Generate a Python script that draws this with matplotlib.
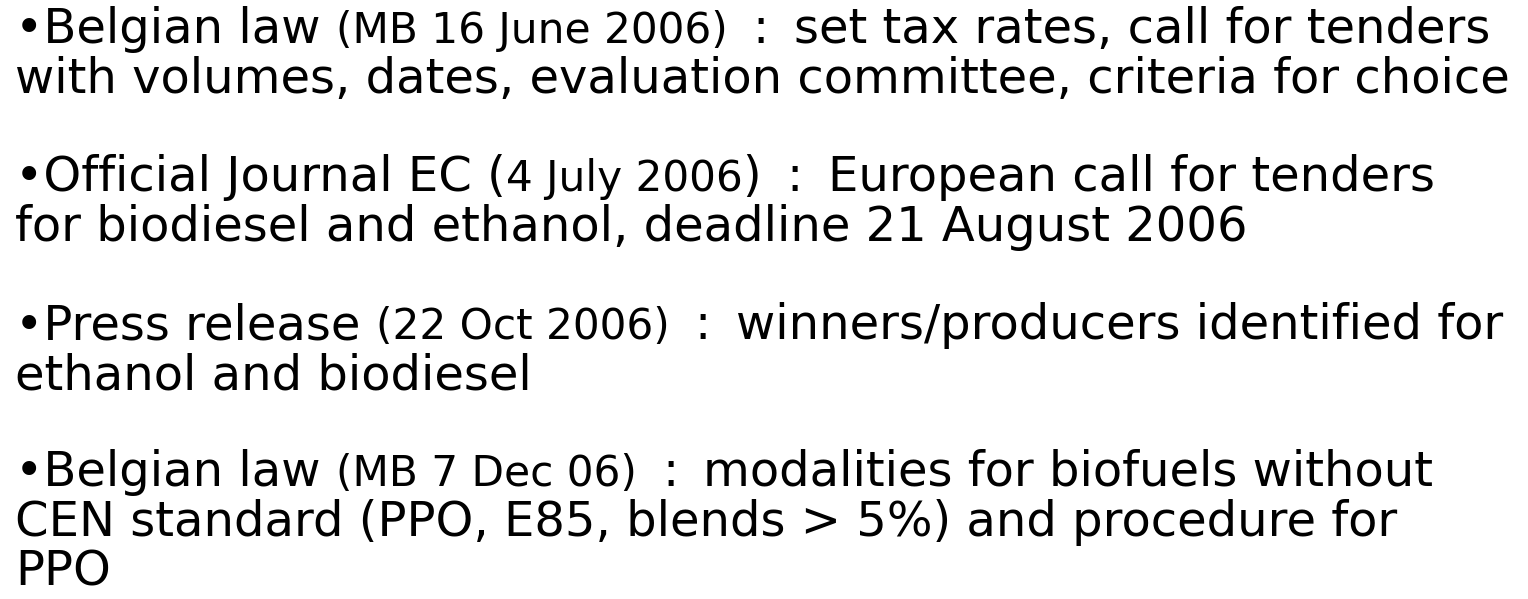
import matplotlib
matplotlib.use("Agg")
import matplotlib.pyplot as plt

# ---- content (M = main size, S = smaller size) ----
para1_line1 = [("•Belgian law ", "M"), ("(MB 16 June 2006)", "S"), (" : set tax rates, call for tenders", "M")]
para1_line2 = [("with volumes, dates, evaluation committee, criteria for choice", "M")]
para2_line1 = [("•Official Journal EC (", "M"), ("4 July 2006", "S"), (") : European call for tenders", "M")]
para2_line2 = [("for biodiesel and ethanol, deadline 21 August 2006", "M")]
para3_line1 = [("•Press release ", "M"), ("(22 Oct 2006)", "S"), (" : winners/producers identified for", "M")]
para3_line2 = [("ethanol and biodiesel", "M")]
para4_line1 = [("•Belgian law ", "M"), ("(MB 7 Dec 06)", "S"), (" : modalities for biofuels without", "M")]
para4_line2 = [("CEN standard (PPO, E85, blends > 5%) and procedure for", "M")]
para4_line3 = [("PPO", "M")]

lines = [para1_line1, para1_line2, para2_line1, para2_line2,
         para3_line1, para3_line2, para4_line1, para4_line2, para4_line3]

# layout: baselines in pixels from top
baselines = [43, 93, 191, 241, 339, 389, 486, 536, 586]

W, H = 1528, 599
DPI = 100
FONT = "DejaVu Sans"
SMALL_RATIO = 0.88
COLON_PAD = 10  # extra px each side of the " : " separator

fig = plt.figure(figsize=(W / DPI, H / DPI), dpi=DPI)
fig.patch.set_facecolor("white")
ax = fig.add_axes([0, 0, 1, 1])
ax.set_xlim(0, W)
ax.set_ylim(H, 0)
ax.axis("off")

renderer = fig.canvas.get_renderer()


def seg_width(s, size):
    t1 = ax.text(0, 0, "x" + s + "x", fontsize=size, family=FONT)
    t2 = ax.text(0, 0, "xx", fontsize=size, family=FONT)
    w = t1.get_window_extent(renderer).width - t2.get_window_extent(renderer).width
    t1.remove()
    t2.remove()
    return w


# calibrate main size so line 2 spans the reference width
target_w = 1493
ref_size = 30.0
w_ref = seg_width(para1_line2[0][0], ref_size)
MAIN = ref_size * target_w / w_ref
SMALL = MAIN * SMALL_RATIO
sizes = {"M": MAIN, "S": SMALL}


def draw(x, y, txt, sz):
    ax.text(x, y, txt, fontsize=sz, family=FONT, va="baseline", ha="left", color="black")
    return x + seg_width(txt, sz)


x0 = 15
for segs, yb in zip(lines, baselines):
    x = x0
    for txt, kind in segs:
        sz = sizes[kind]
        if " : " in txt:
            before, after = txt.split(" : ", 1)
            if before:
                x = draw(x, yb, before, sz)
            x += seg_width(" ", sz) + COLON_PAD
            x = draw(x, yb, ":", sz)
            x += seg_width(" ", sz) + COLON_PAD
            x = draw(x, yb, after, sz)
        else:
            x = draw(x, yb, txt, sz)

fig.savefig("out.png", dpi=DPI, facecolor="white")
